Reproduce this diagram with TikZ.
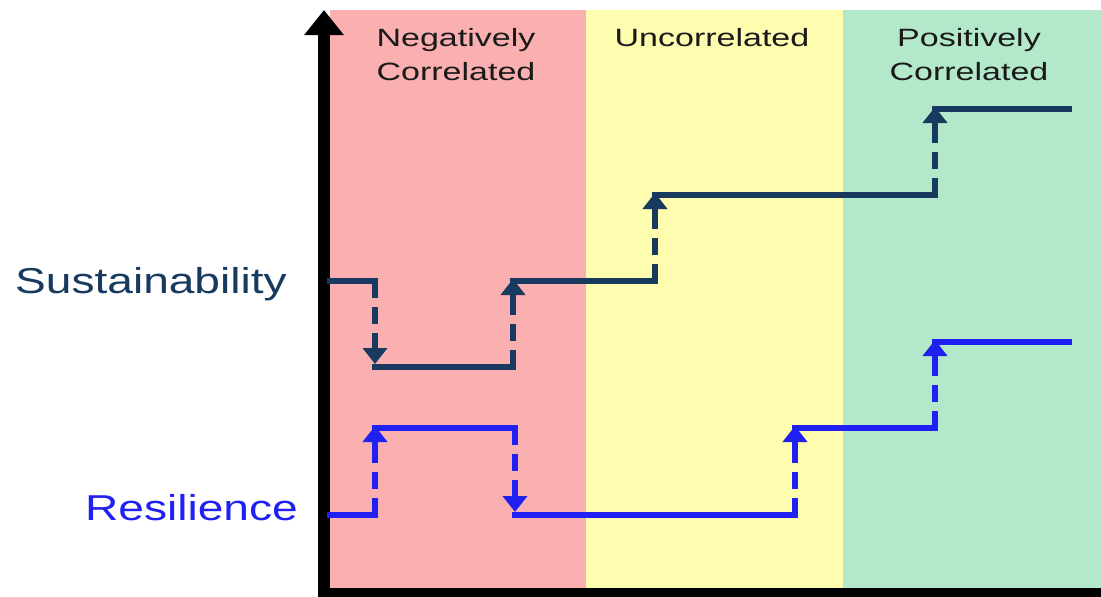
\documentclass[tikz,border=0pt]{standalone}
\usepackage{fontspec}
\usepackage{graphicx}
\setmainfont{Liberation Sans}
\usetikzlibrary{arrows.meta}
\definecolor{bandred}{HTML}{FAAFB0}
\definecolor{bandyellow}{HTML}{FEFCAE}
\definecolor{bandgreen}{HTML}{B3E9CA}
\definecolor{navy}{HTML}{173A5E}
\definecolor{resblue}{HTML}{2020F2}
\definecolor{labelblack}{HTML}{1A1A1A}
\newcommand\wideA[1]{\scalebox{1.36}[1]{#1}}
\newcommand\wideB[1]{\scalebox{1.28}[1]{#1}}
\tikzset{
  sline/.style={line width=6pt, line cap=rect},
  darr/.style={line width=6pt, dash pattern=on 17pt off 9pt on 17pt off 9pt on 80pt,
    -{Triangle[width=24pt,length=16pt]}},
  bandlabel/.style={inner sep=0pt, text=labelblack, font=\fontsize{25}{34}\selectfont, align=center},
  sidelabel/.style={inner sep=0pt, font=\fontsize{36}{40}\selectfont, anchor=base west}
}
\begin{document}
\begin{tikzpicture}[x=1pt,y=-1pt]
\useasboundingbox (0,0) rectangle (1101,597);
% bands
\fill[bandred] (330,10) rectangle (586,589);
\fill[bandyellow] (586,10) rectangle (843,589);
\fill[bandgreen] (843,10) rectangle (1101,589);
% band labels
\node[bandlabel, anchor=north] (neg) at (456,28) {\wideA{Negatively}\\\wideA{Correlated}};
\node[bandlabel, anchor=base] (unc) at (712,46) {\wideA{Uncorrelated}};
\node[bandlabel, anchor=north] (pos) at (969,28) {\wideA{Positively}\\\wideA{Correlated}};
% side labels
\node[sidelabel, text=navy] (sus) at (15,293) {\wideB{Sustainability}};
\node[sidelabel, text=resblue] (res) at (85,520) {\wideB{Resilience}};
% axes
\coordinate (ybot) at (324,597);
\coordinate (ytop) at (324,10);
\draw[line width=12pt, -{Triangle[width=38pt,length=25pt]}] (ybot) -- (ytop);
\fill[black] (318,588) rectangle (1101,597);
% sustainability path
\coordinate (s0) at (330,281);
\coordinate (s1) at (375,281);
\coordinate (sa1) at (375,364);
\coordinate (s2) at (375,367);
\coordinate (s3) at (513,367);
\coordinate (sa2) at (513,279);
\coordinate (s4) at (513,281);
\coordinate (s5) at (655,281);
\coordinate (sa3) at (655,193);
\coordinate (s6) at (655,195);
\coordinate (s7) at (935,195);
\coordinate (sa4) at (935,107);
\coordinate (s8) at (935,109);
\coordinate (s9) at (1069,109);
\begin{scope}[navy]
\draw[sline] (s0) -- (s1);
\draw[darr] (s1) -- (sa1);
\draw[sline] (s2) -- (s3);
\draw[darr] (s3) -- (sa2);
\draw[sline] (s4) -- (s5);
\draw[darr] (s5) -- (sa3);
\draw[sline] (s6) -- (s7);
\draw[darr] (s7) -- (sa4);
\draw[sline] (s8) -- (s9);
\end{scope}
% resilience path
\coordinate (r0) at (330,515);
\coordinate (r1) at (375,515);
\coordinate (ra1) at (375,426);
\coordinate (r2) at (375,428);
\coordinate (r3) at (515,428);
\coordinate (ra2) at (515,512);
\coordinate (r4) at (515,515);
\coordinate (r5) at (795,515);
\coordinate (ra3) at (795,426);
\coordinate (r6) at (795,428);
\coordinate (r7) at (935,428);
\coordinate (ra4) at (935,340);
\coordinate (r8) at (935,342);
\coordinate (r9) at (1069,342);
\begin{scope}[resblue]
\draw[sline] (r0) -- (r1);
\draw[darr] (r1) -- (ra1);
\draw[sline] (r2) -- (r3);
\draw[darr] (r3) -- (ra2);
\draw[sline] (r4) -- (r5);
\draw[darr] (r5) -- (ra3);
\draw[sline] (r6) -- (r7);
\draw[darr] (r7) -- (ra4);
\draw[sline] (r8) -- (r9);
\end{scope}
\end{tikzpicture}
\end{document}
